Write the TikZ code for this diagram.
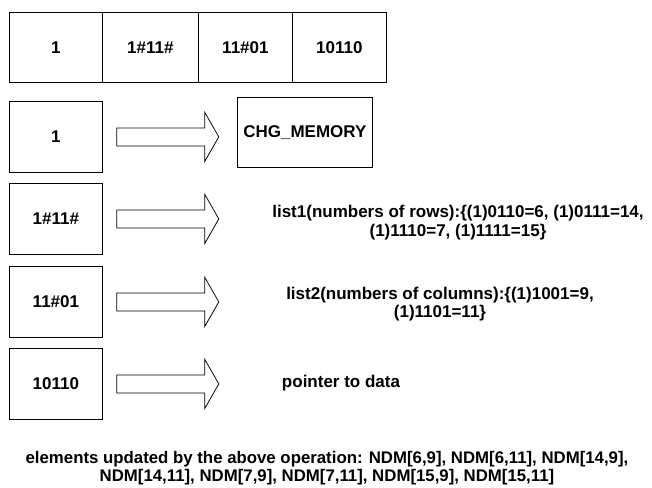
\documentclass[tikz,border=0pt]{standalone}
\usepackage{fontspec}
\setmainfont{Liberation Sans}
\begin{document}
\begin{tikzpicture}[x=1pt,y=-1pt,line width=0.8pt,
  font=\bfseries\fontsize{17}{18.5}\selectfont,
  cell/.style={draw,inner sep=0pt,minimum height=70,anchor=north west},
  rowbox/.style={draw,inner sep=0pt,minimum width=93,minimum height=71,anchor=north west},
  label/.style={align=center,inner sep=0pt},
  blockarrow/.pic={\draw (0,-9) -- (88,-9) -- (88,-24.5) -- (102,0) -- (88,24.5) -- (88,9) -- (0,9) -- cycle;}]
\useasboundingbox (0,0) rectangle (652,487);

% memory word split into its four fields
\node[cell,minimum width=93] (c1) at (9,12) {1};
\node[cell,minimum width=96] (c2) at (102,12) {1\#11\#};
\node[cell,minimum width=94] (c3) at (198,12) {11\#01};
\node[cell,minimum width=94] (c4) at (292,12) {10110};

% each field and what it stands for
\node[rowbox] (r1) at (9,101) {1};
\node[rowbox] (r2) at (9,183) {1\#11\#};
\node[rowbox] (r3) at (9,266) {11\#01};
\node[rowbox] (r4) at (9,348) {10110};

\pic at ([xshift=14]r1.east) {blockarrow};
\pic at ([xshift=14]r2.east) {blockarrow};
\pic at ([xshift=14]r3.east) {blockarrow};
\pic at ([xshift=14]r4.east) {blockarrow};

\node[draw,inner sep=0pt,minimum width=135,minimum height=70,anchor=north west] (mem) at (237,97) {CHG\_MEMORY};
\node[label] (rows) at (458,222.5) {list1(numbers of rows):\{(1)0110=6, (1)0111=14,\\(1)1110=7, (1)1111=15\}};
\node[label] (cols) at (440,304) {list2(numbers of columns):\{(1)1001=9,\\(1)1101=11\}};
\node[label] (ptr) at (341,383) {pointer to data};

\node[label,font=\bfseries\fontsize{16.8}{18}\selectfont] (upd) at (327,468.5) {elements updated by the above operation: NDM[6,9], NDM[6,11], NDM[14,9],\\NDM[14,11], NDM[7,9], NDM[7,11], NDM[15,9], NDM[15,11]};
\end{tikzpicture}
\end{document}
